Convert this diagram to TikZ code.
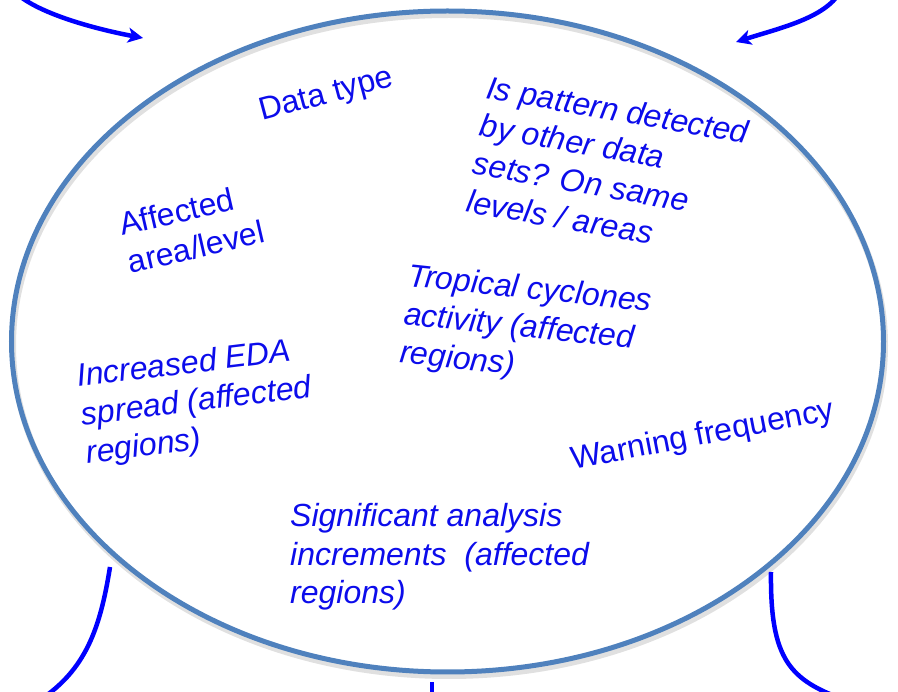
\documentclass[tikz,border=0pt]{standalone}
\usepackage{fontspec}
\setmainfont{Liberation Sans}
\usetikzlibrary{arrows.meta,shapes.geometric}
\definecolor{ringblue}{RGB}{79,129,189}
\definecolor{inkblue}{RGB}{12,12,235}
\definecolor{flowblue}{RGB}{0,0,255}
\newcommand{\stacklines}[1]{\begin{tabular}[t]{@{}l@{}}#1\end{tabular}}

\begin{document}
\begin{tikzpicture}[x=1pt,y=-1pt,
  note/.style={inner sep=0pt, anchor=base west, text=inkblue,
    font=\fontsize{32}{38.5}\selectfont},
  slanted/.style={note, font=\fontsize{32}{38.5}\selectfont\itshape},
  flow/.style={draw=flowblue, line width=4.5pt},
  flowarrow/.style={flow, -{Stealth[length=15pt,width=15pt,inset=4pt]}},
  ring/.style={ellipse, draw=ringblue, line width=5pt, inner sep=0pt,
    minimum width=872pt, minimum height=661pt},
  ringshadow/.style={ellipse, draw=black!35, opacity=0.35, line width=6pt,
    inner sep=0pt, minimum width=872pt, minimum height=661pt},
]
\useasboundingbox (0,0) rectangle (898,692);

% central ring with its soft shadow
\node[ringshadow] (ringsh) at (449,345.5) {};
\node[ring] (ring) at (447.5,341.5) {};

% incoming arrows at the top corners
\coordinate (tlstart) at (15,-8);
\coordinate (tltip) at (143,38);
\draw[flowarrow] (tlstart) .. controls (35,12) and (90,28) .. (tltip);

\coordinate (trstart) at (840,-8);
\coordinate (trtip) at (736,42);
\draw[flowarrow] (trstart) .. controls (825,18) and (780,28) .. (trtip);

% outgoing lines at the bottom
\coordinate (blstart) at (110,567);
\coordinate (blend) at (40,700);
\draw[flow] (blstart) .. controls (100,630) and (85,670) .. (blend);

\coordinate (brstart) at (771,572);
\coordinate (brend) at (845,700);
\draw[flow] (brstart) .. controls (770,660) and (790,680) .. (brend);

\coordinate (bcstart) at (432,682);
\coordinate (bcend) at (432,700);
\draw[flow] (bcstart) -- (bcend);

% labels inside the ring
\node[note, rotate=15] (datatype) at (262,121) {Data type};
\node[note, rotate=13] (area) at (122,236) {\stacklines{Affected\\area/level}};
\node[slanted, rotate=-10] (pattern) at (485,98)
  {\stacklines{Is pattern detected\\by other data\\sets? On same\\levels / areas}};
\node[slanted, rotate=-6] (cyclones) at (407,286)
  {\stacklines{Tropical cyclones\\activity (affected\\regions)}};
\node[slanted, rotate=7] (eda) at (78,387)
  {\stacklines{Increased EDA\\spread (affected\\regions)}};
\node[note, rotate=11] (warning) at (573,470) {Warning frequency};
\node[slanted] (increments) at (290,527)
  {\stacklines{Significant analysis\\increments~ (affected\\regions)}};
\end{tikzpicture}
\end{document}
